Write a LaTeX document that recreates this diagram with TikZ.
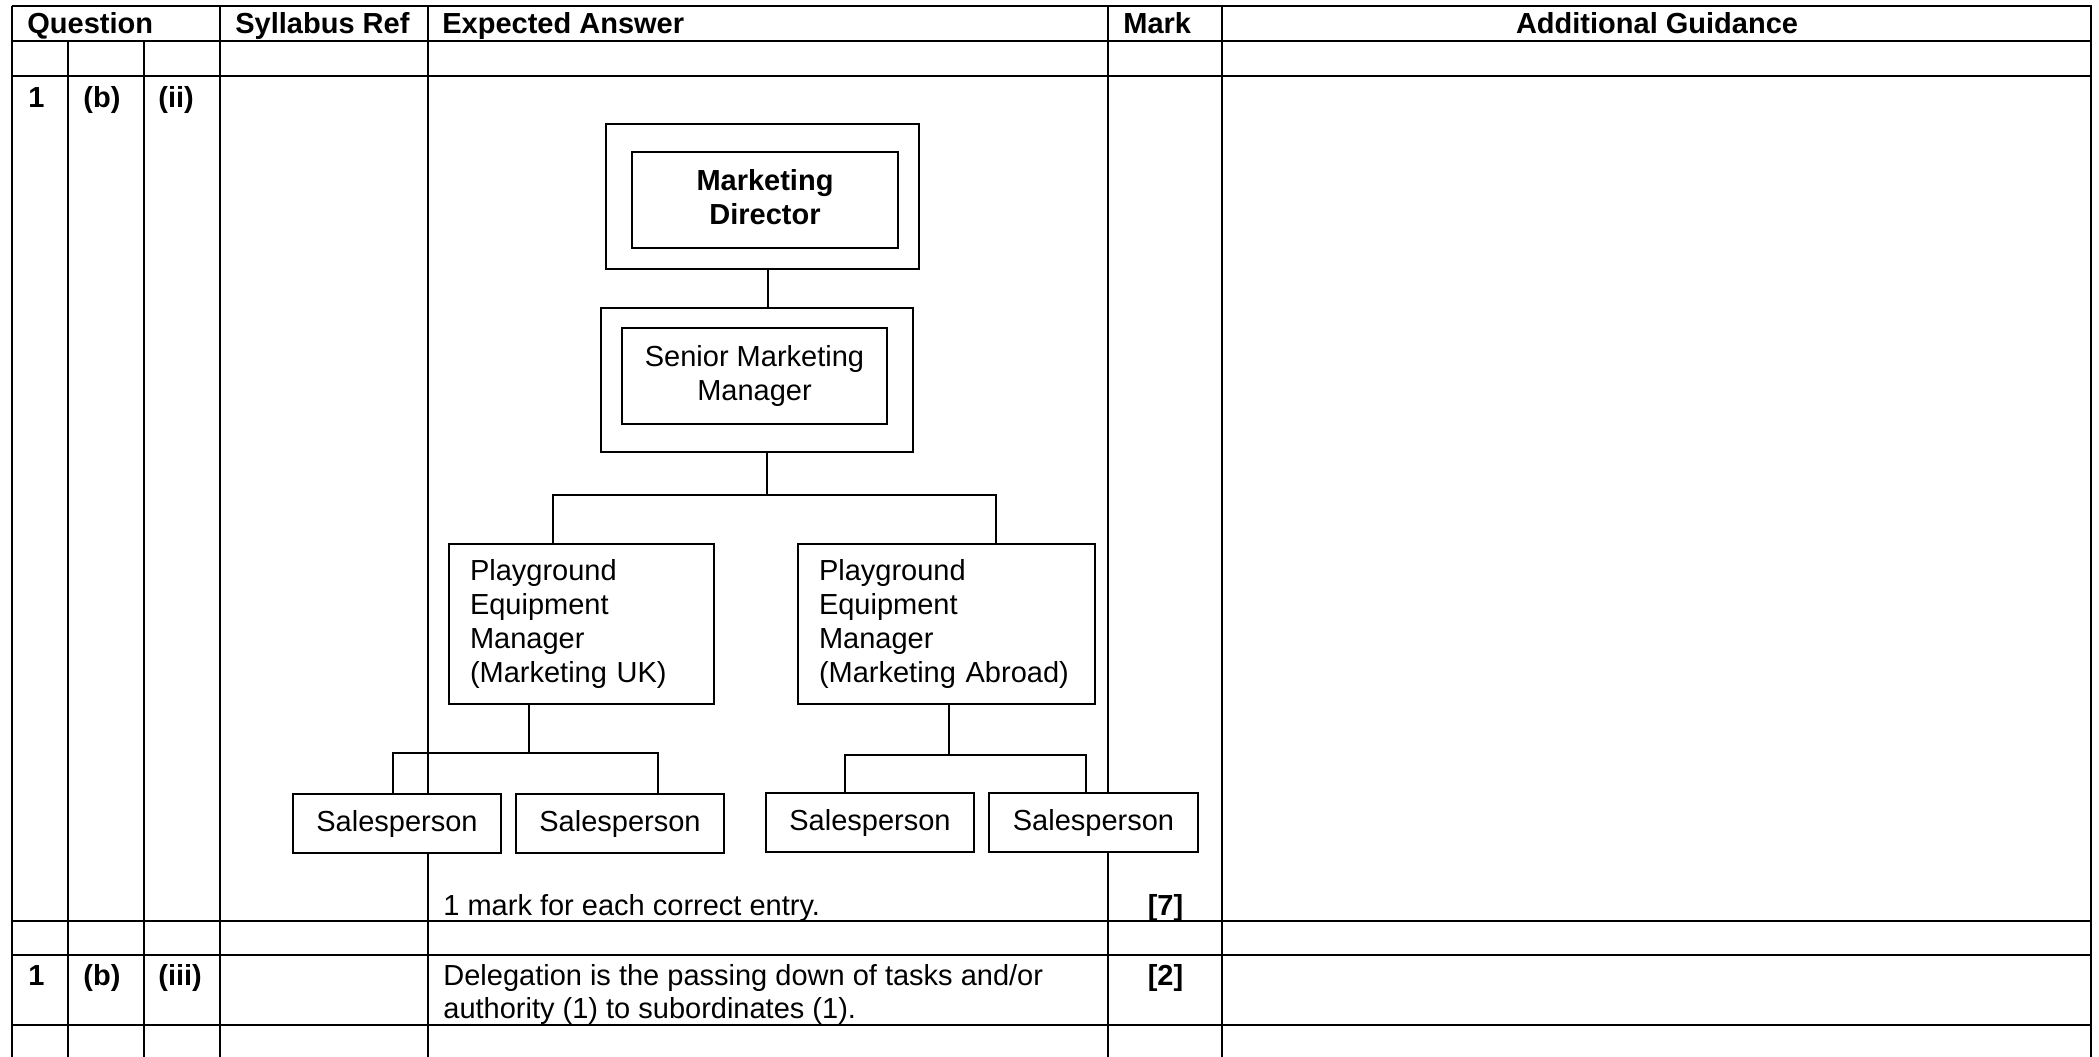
\documentclass[tikz,border=0pt]{standalone}
\usepackage{fontspec}
\setmainfont{Liberation Sans}
\begin{document}
\begin{tikzpicture}[x=0.5pt,y=-0.5pt,
  tline/.style={line width=1.1pt},
  cline/.style={line width=0.65pt},
  box/.style={draw, line width=0.65pt, fill=white, inner sep=0pt, font=\fontsize{14.5}{17}\selectfont},
  hd/.style={font=\bfseries\fontsize{14.5}{17}\selectfont, inner sep=0pt, anchor=base west},
  tx/.style={font=\fontsize{14.5}{17}\selectfont, inner sep=0pt, anchor=base west}]

\fill[white] (0,0) rectangle (2099,1056);
\useasboundingbox (0,0) rectangle (2099,1056);

% table grid
\foreach \y in {6,41,76,921,955,1025} \draw[tline] (11.5,\y) -- (2091.5,\y);
\foreach \x in {12,220,428,1108,1222,2091} \draw[tline] (\x,5.5) -- (\x,1060);
\foreach \x in {68,144} \draw[tline] (\x,41) -- (\x,1060);

% header
\node[hd] (hq) at (27,33) {Question};
\node[hd] (hs) at (235,33) {Syllabus Ref};
\node[hd] (he) at (442,33) {Expected Answer};
\node[hd] (hm) at (1123,33) {Mark};
\node[hd, anchor=base] (hg) at (1657,33) {Additional Guidance};

% row 1 (b) (ii)
\node[hd] (q1a) at (28,107) {1};
\node[hd] (q1b) at (83,107) {(b)};
\node[hd] (q1c) at (158,107) {(ii)};
\node[tx] (note) at (443,915) {1 mark for each correct entry.};
\node[hd, anchor=base] (m7) at (1165.5,915) {[7]};

% row 1 (b) (iii)
\node[hd] (q2a) at (28,985) {1};
\node[hd] (q2b) at (83,985) {(b)};
\node[hd] (q2c) at (158,985) {(iii)};
\node[tx] (del1) at (443,985) {Delegation is the passing down of tasks and/or};
\node[tx] (del2) at (443,1018) {authority (1) to subordinates (1).};
\node[hd, anchor=base] (m2) at (1165.5,985) {[2]};

% org chart boxes
\node[box, minimum width=156.5pt, minimum height=72.5pt] (dirO) at (762.5,196.5) {};
\node[box, minimum width=133pt, minimum height=48pt, align=center,
      font=\bfseries\fontsize{14.5}{17}\selectfont] (dir) at (765,200) {Marketing\\Director\rule[-3pt]{0pt}{3pt}};
\node[box, minimum width=156pt, minimum height=72pt] (senO) at (757,380) {};
\node[box, minimum width=132.5pt, minimum height=48pt, align=center] (sen) at (754.5,376) {Senior Marketing\\Manager};

\node[box, minimum width=132.5pt, minimum height=80pt, text width=111.5pt, inner xsep=10.5pt, align=left]
  (uk) at (581.5,624) {Playground\\Equipment\\Manager\\(Marketing UK)};
\node[box, minimum width=148.5pt, minimum height=80pt, text width=127.5pt, inner xsep=10.5pt, align=left]
  (ab) at (946.5,624) {Playground\\Equipment\\Manager\\(Marketing Abroad)};

% connector junctions
\coordinate (j1) at (768,0);
\coordinate (bm) at (767,495);
\coordinate (bl) at (553,495);
\coordinate (br) at (996,495);
\coordinate (um) at (529,753);
\coordinate (ul) at (393,753);
\coordinate (ur) at (658,753);
\coordinate (am) at (949,755);
\coordinate (al) at (845,755);
\coordinate (ar) at (1086,755);

\node[box, minimum width=104pt, minimum height=29.5pt] (s1) at (397,823.5) {Salesperson};
\node[box, minimum width=104pt, minimum height=29.5pt] (s2) at (620,823.5) {Salesperson};
\node[box, minimum width=104pt, minimum height=29.5pt] (s3) at (870,822.5) {Salesperson};
\node[box, minimum width=104.5pt, minimum height=29.5pt] (s4) at (1093.5,822.5) {Salesperson};

% connectors
\draw[cline] (dirO.south -| j1) -- (senO.north -| j1);
\draw[cline] (senO.south -| bm) -- (bm);
\draw[cline] (bl |- uk.north) -- (bl) -- (br) -- (br |- ab.north);
\draw[cline] (uk.south -| um) -- (um);
\draw[cline] (ul |- s1.north) -- (ul) -- (ur) -- (ur |- s2.north);
\draw[cline] (ab.south -| am) -- (am);
\draw[cline] (al |- s3.north) -- (al) -- (ar) -- (ar |- s4.north);
\end{tikzpicture}
\end{document}
